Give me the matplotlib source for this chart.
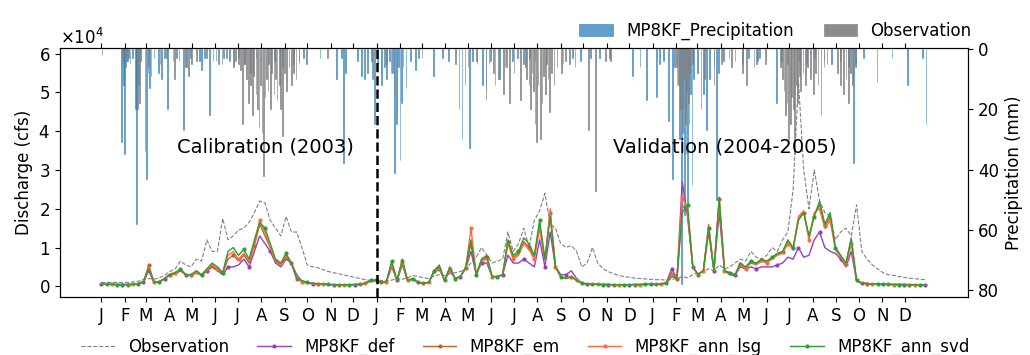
import numpy as np
import pandas as pd
import matplotlib
matplotlib.use('Agg')
import matplotlib.pyplot as plt
import matplotlib.dates as mdates
from matplotlib.ticker import MultipleLocator, FuncFormatter

# weekly discharge (cfs), 2003-01-01 .. 2005-12-29
start = pd.Timestamp('2003-01-01')
weeks = pd.date_range(start, periods=157, freq='7D')

obs = [
    # 2003
    1000, 1000, 1000, 1000, 1000, 1000, 1100, 1300, 1800, 2000,
    1800, 2200, 2800, 3800, 4500, 6500, 5500, 5000, 7000, 6500,
    12000, 9000, 9000, 17500, 12000, 13000, 14500, 15000, 16500, 19000,
    22000, 21500, 17000, 15000, 13000, 18000, 14000, 14000, 10000, 5500,
    5000, 4800, 4300, 3800, 3500, 3200, 2900, 2600, 2300, 2000,
    1700, 1500,
    # 2004
    1700, 1500, 1400, 1600, 2000, 1800, 2200, 2800, 2500, 2200,
    2000, 2600, 3000, 2800, 3200, 3500, 3800, 4500, 6000, 7500,
    10000, 8000, 6000, 6500, 7000, 14000, 9000, 11000, 15000, 10000,
    17000, 19500, 24000, 16000, 15000, 11000, 10000, 10500, 9000, 5000,
    6000, 10000, 6000, 4500, 3800, 3200, 2800, 2500, 2300, 2100, 2000, 1900,
    # 2005
    1800, 1700, 1700, 1600, 1800, 2000, 2500, 2200, 3000, 3500,
    3800, 4500, 4000, 5500, 4500, 5000, 6000, 7000, 6500, 9000,
    7500, 7000, 8000, 10000, 9000, 12000, 14000, 25000, 53000, 30000,
    20000, 30000, 22000, 19000, 18000, 12000, 14000, 15000, 13000, 21000,
    9000, 7000, 5500, 4500, 3500, 3000, 2800, 2500, 2300, 2100, 2000, 1800, 1700,
]

mp_def = [
    600, 500, 500, 450, 450, 450, 500, 700, 1200, 4000,
    1000, 1200, 2000, 3000, 3200, 4000, 3000, 2800, 3500, 2800,
    4000, 5000, 4000, 3000, 5000, 5000, 5500, 7000, 5000, 9000,
    13000, 11000, 9000, 6000, 5000, 7000, 6000, 3000, 1200, 800,
    700, 600, 500, 450, 400, 400, 400, 400, 450, 500,
    800, 1500,
    1500, 1000, 1200, 5000, 1500, 5500, 1500, 1800, 1000, 800,
    1000, 3500, 4500, 1500, 4000, 2000, 2500, 4500, 9000, 3000,
    6000, 6000, 2500, 2500, 3000, 8000, 6000, 6000, 7000, 6000,
    5000, 12000, 5000, 14000, 5000, 3000, 3000, 4000, 2000, 800,
    600, 500, 500, 450, 450, 400, 400, 400, 400, 450, 450, 500,
    500, 500, 600, 1000, 4500, 2000, 27000, 18000, 5000, 3000,
    4000, 14000, 4000, 19000, 4000, 3000, 2800, 5000, 4500, 5000,
    4500, 5000, 5000, 5000, 5500, 6000, 7500, 7000, 10000, 7500,
    8000, 12000, 14000, 10000, 9000, 8500, 7000, 5000, 9000, 1500,
    800, 700, 600, 550, 500, 500, 450, 450, 450, 400, 400, 400, 400,
]

mp_em = [
    600, 500, 500, 450, 450, 450, 500, 700, 1200, 5500,
    1000, 1200, 2000, 3000, 3300, 4000, 3000, 2800, 3600, 2900,
    4000, 5200, 4300, 3300, 7000, 8000, 6500, 8000, 6000, 10500,
    16000, 13000, 10000, 6500, 5500, 7500, 6000, 2000, 1200, 800,
    700, 600, 500, 450, 400, 400, 400, 400, 450, 500,
    800, 1300,
    1400, 1000, 1200, 6000, 1500, 6500, 1500, 1900, 1000, 800,
    1000, 3800, 5000, 1500, 4800, 2000, 2500, 4800, 11000, 3000,
    6800, 7500, 2500, 2500, 3000, 11500, 7500, 8500, 11500, 10000,
    7500, 16000, 6800, 19000, 5000, 2500, 2000, 2500, 1500, 800,
    600, 500, 500, 450, 450, 400, 400, 400, 400, 450, 450, 500,
    500, 500, 600, 800, 3500, 2000, 21000, 19000, 5000, 3000,
    4000, 15500, 4000, 22500, 4000, 3500, 3000, 5800, 4800, 6200,
    5800, 6800, 6200, 7200, 8200, 8800, 11500, 9800, 17500, 19000,
    12500, 18500, 21000, 15500, 18000, 9800, 7800, 5800, 12000, 1500,
    800, 700, 600, 550, 500, 500, 450, 450, 450, 400, 400, 400, 400,
]

mp_ann_lsq = [
    600, 500, 500, 450, 450, 450, 500, 700, 1200, 5000,
    1000, 1200, 2000, 3200, 3500, 4200, 3000, 2800, 3800, 3000,
    4200, 5500, 4500, 3500, 8000, 9000, 7000, 8500, 6500, 11000,
    17000, 14000, 10000, 6500, 6000, 8000, 6000, 2000, 1200, 800,
    700, 600, 500, 450, 400, 400, 400, 400, 450, 500,
    800, 1200,
    1300, 1000, 1200, 5500, 1500, 6000, 1500, 1800, 1000, 800,
    1000, 3500, 4500, 1500, 4500, 2000, 2500, 4500, 15000, 3000,
    6500, 7000, 2500, 2500, 3000, 11000, 7000, 8000, 11000, 9500,
    7000, 15000, 6500, 20000, 5000, 2500, 2000, 2500, 1500, 800,
    600, 500, 500, 450, 450, 400, 400, 400, 400, 450, 450, 500,
    500, 500, 600, 800, 3000, 2000, 23000, 20000, 5000, 3000,
    4000, 16000, 4000, 22000, 4000, 3500, 3000, 5500, 4500, 6000,
    5500, 6500, 6000, 7000, 8000, 8500, 11000, 9500, 18000, 19500,
    12000, 19000, 20000, 15000, 17000, 9500, 7500, 5500, 11000, 1500,
    800, 700, 600, 550, 500, 500, 450, 450, 450, 400, 400, 400, 400,
]

mp_ann_svd = [
    600, 500, 500, 450, 450, 450, 500, 700, 1200, 4500,
    1000, 1200, 2000, 3000, 3500, 4500, 3000, 3000, 4000, 3000,
    4500, 6000, 5000, 3500, 9000, 10000, 8000, 9500, 7000, 12000,
    16500, 15000, 11000, 7000, 6000, 8500, 6000, 2000, 1500, 1000,
    800, 700, 600, 500, 450, 400, 400, 400, 450, 500,
    800, 1500,
    1500, 1000, 1200, 6500, 1500, 7000, 1500, 2000, 1000, 800,
    1000, 4000, 5500, 1500, 5000, 2000, 2500, 5000, 12000, 3000,
    7000, 8000, 2500, 2500, 3000, 12000, 8000, 9000, 12500, 11000,
    8000, 17000, 7000, 18000, 5000, 2500, 2000, 2500, 1500, 800,
    600, 500, 500, 450, 450, 400, 400, 400, 400, 450, 450, 500,
    500, 500, 600, 800, 2500, 2000, 19000, 21000, 5000, 3000,
    4000, 15000, 4000, 23000, 4000, 3500, 3000, 6000, 5000, 6500,
    6000, 7000, 6500, 7500, 8500, 9000, 12000, 10000, 17000, 19000,
    13000, 18000, 22000, 16000, 19000, 10000, 8000, 6000, 12500, 1500,
    800, 700, 600, 550, 500, 500, 450, 450, 450, 400, 400, 400, 400,
]

# daily precipitation events (day since 2003-01-01, mm)
mp_precip_day = [
    27, 29, 30, 31, 33, 36, 38, 41, 45, 47, 49, 52, 60, 62, 64, 66, 70, 76, 80, 84,
    88, 95, 100, 109, 112, 118, 130, 133, 137, 143, 148, 155, 162, 170, 176, 182, 190, 198,
    205, 222, 230, 240, 255, 262, 268, 290, 312, 318, 321, 324, 340, 345, 349, 353, 358,
    362, 366, 371, 375, 378, 382, 386, 389, 391, 394, 396, 398, 404, 410, 416, 425, 440,
    452, 460, 478, 482, 488, 492, 498, 505, 510, 516, 522, 528, 535, 545, 552, 560, 568,
    575, 590, 612, 625, 635, 648, 660, 675, 704, 714, 723, 736, 740, 745, 752, 757, 760,
    763, 766, 769, 771, 773, 775, 777, 779, 781, 783, 785, 790, 795, 798, 802, 806, 812,
    815, 818, 825, 832, 840, 850, 858, 865, 870, 895, 902, 910, 918, 925, 935, 945, 958,
    968, 980, 990, 997, 1000, 1010, 1028, 1048, 1069, 1088, 1093,
]
mp_precip_mm = [
    31, 5, 12, 35, 4, 3, 5, 3, 20, 58, 12, 4, 43, 8, 13, 9, 3, 8, 10, 3,
    20, 4, 3, 27, 6, 3, 4, 7, 3, 22, 4, 5, 3, 4, 6, 3, 5, 8,
    3, 5, 4, 6, 5, 4, 3, 3, 10, 3, 38, 8, 4, 9, 10, 8, 4,
    25, 5, 12, 6, 10, 4, 8, 41, 25, 6, 37, 18, 13, 4, 7, 3, 9,
    3, 4, 30, 12, 33, 4, 5, 12, 14, 4, 12, 10, 6, 4, 3, 5, 3,
    4, 5, 5, 3, 4, 3, 3, 4, 9, 6, 17, 16, 5, 4, 24, 43, 6,
    12, 30, 78, 20, 55, 35, 52, 25, 15, 45, 10, 8, 20, 15, 27, 10, 6,
    50, 8, 4, 3, 4, 5, 3, 6, 4, 18, 4, 5, 6, 4, 5, 3, 4,
    5, 4, 6, 38, 5, 3, 11, 3, 12, 3, 25,
]

obs_precip_day = [
    1, 28, 32, 35, 48, 51, 58, 63, 78, 86, 97, 103, 113, 116, 120, 126, 140, 152, 160, 166,
    175, 178, 182, 185, 187, 190, 193, 195, 198, 200, 202, 205, 207, 209, 211, 213, 215,
    217, 219, 221, 224, 226, 229, 231, 233, 236, 238, 240, 243, 246, 249, 252, 255, 258,
    262, 272, 300, 360,
    378, 384, 388, 392, 400, 420, 470, 474, 486, 497, 510, 514, 520, 526, 533, 537, 541,
    547, 556, 562, 564, 567, 569, 571, 573, 575, 577, 579, 582, 584, 586, 589, 592, 594,
    597, 600, 604, 610, 615, 621, 628, 646, 655, 668, 674,
    762, 765, 768, 770, 772, 774, 776, 778, 780, 784, 800, 812, 822, 835, 850, 855, 868,
    872, 880, 900, 903, 905, 907, 909, 911, 913, 915, 917, 919, 921, 923, 925, 927, 930,
    933, 936, 940, 944, 947, 950, 954, 958, 962, 976, 980, 984, 987, 990, 993, 996, 1000,
]
obs_precip_mm = [
    2, 3, 6, 4, 20, 18, 34, 6, 5, 3, 10, 4, 6, 9, 5, 4, 3, 4, 5, 3,
    6, 4, 5, 7, 25, 5, 10, 18, 12, 22, 9, 15, 20, 26, 12, 28, 42,
    16, 10, 14, 20, 8, 15, 10, 17, 12, 20, 29, 8, 14, 6, 12, 8, 10,
    5, 5, 3, 10,
    5, 8, 15, 20, 6, 3, 5, 20, 6, 4, 17, 5, 8, 10, 15, 6, 18,
    8, 17, 6, 10, 12, 20, 8, 14, 25, 31, 12, 30, 18, 9, 15, 10, 21,
    8, 12, 6, 8, 4, 5, 6, 27, 47, 4, 3,
    6, 12, 20, 28, 10, 25, 14, 18, 8, 5, 10, 12, 5, 6, 8, 12, 5,
    3, 5, 6, 10, 14, 22, 18, 30, 25, 16, 20, 35, 12, 18, 9, 14, 8,
    12, 6, 10, 15, 8, 12, 22, 6, 5, 8, 12, 15, 10, 18, 8, 12, 6,
]

month_ticks = pd.date_range('2003-01-01', '2005-12-01', freq='MS')

mp_precip_dates = start + pd.to_timedelta(mp_precip_day, unit='D')
obs_precip_dates = start + pd.to_timedelta(obs_precip_day, unit='D')

plt.rcParams['font.family'] = 'DejaVu Sans'
plt.rcParams['font.size'] = 12

fig, ax = plt.subplots(figsize=(10.3, 3.55), dpi=100)
fig.subplots_adjust(left=0.058, right=0.94, top=0.865, bottom=0.163)

ax2 = ax.twinx()
ax.set_zorder(ax2.get_zorder() + 1)
ax.patch.set_visible(False)

ax2.bar(mp_precip_dates, mp_precip_mm, width=1.0, color='tab:blue', alpha=0.7,
        edgecolor='tab:blue', linewidth=0.5, label='MP8KF_Precipitation')
ax2.bar(obs_precip_dates, obs_precip_mm, width=1.0, color='gray', alpha=0.9,
        edgecolor='gray', linewidth=0.5, label='Observation')
ax2.set_ylim(82.3, -0.3)
ax2.set_ylabel('Precipitation (mm)')
ax2.yaxis.set_major_locator(MultipleLocator(20))
ax2.legend(loc='lower right', bbox_to_anchor=(1.02, 0.97), ncol=2, frameon=False,
           fontsize=12, columnspacing=1.8)

ax.plot(weeks, obs, '--', color='gray', lw=0.8, label='Observation')
ax.plot(weeks, mp_def, '-', color='#9640c0', lw=1.0, marker='o', ms=2.0,
        markevery=(0, 4), label='MP8KF_def')
ax.plot(weeks, mp_em, '-', color='#c0602a', lw=1.0, marker='o', ms=2.0,
        markevery=(1, 4), label='MP8KF_em')
ax.plot(weeks, mp_ann_lsq, '-', color='#ff6a3d', lw=1.0, marker='o', ms=2.0,
        markevery=(2, 4), label='MP8KF_ann_lsg')
ax.plot(weeks, mp_ann_svd, '-', color='#2ca02c', lw=1.0, marker='o', ms=2.0,
        markevery=(3, 4), label='MP8KF_ann_svd')

ax.axvline(pd.Timestamp('2004-01-01'), color='black', ls='--', lw=1.8)
ax.text(pd.Timestamp('2003-08-06'), 36000, 'Calibration (2003)', ha='center',
        va='center', fontsize=14)
ax.text(pd.Timestamp('2005-04-06'), 36000, 'Validation (2004-2005)', ha='center',
        va='center', fontsize=14)

ax.set_xlim(start - pd.Timedelta(days=55), start + pd.Timedelta(days=1149))
ax.set_ylim(-2800, 61500)
ax.yaxis.set_major_locator(MultipleLocator(10000))
ax.ticklabel_format(axis='y', style='sci', scilimits=(0, 0), useMathText=True)
ax.set_ylabel('Discharge (cfs)')

ax.set_xticks(month_ticks)
ax.xaxis.set_major_formatter(FuncFormatter(lambda v, p: mdates.num2date(v).strftime('%b')[0]))
ax.tick_params(axis='x', top=True, direction='out')

handles, labels = ax.get_legend_handles_labels()
fig.legend(handles, labels, loc='lower center', bbox_to_anchor=(0.51, -0.045), ncol=5,
           frameon=False, fontsize=12, columnspacing=1.7)

fig.savefig('out.png', dpi=100)
